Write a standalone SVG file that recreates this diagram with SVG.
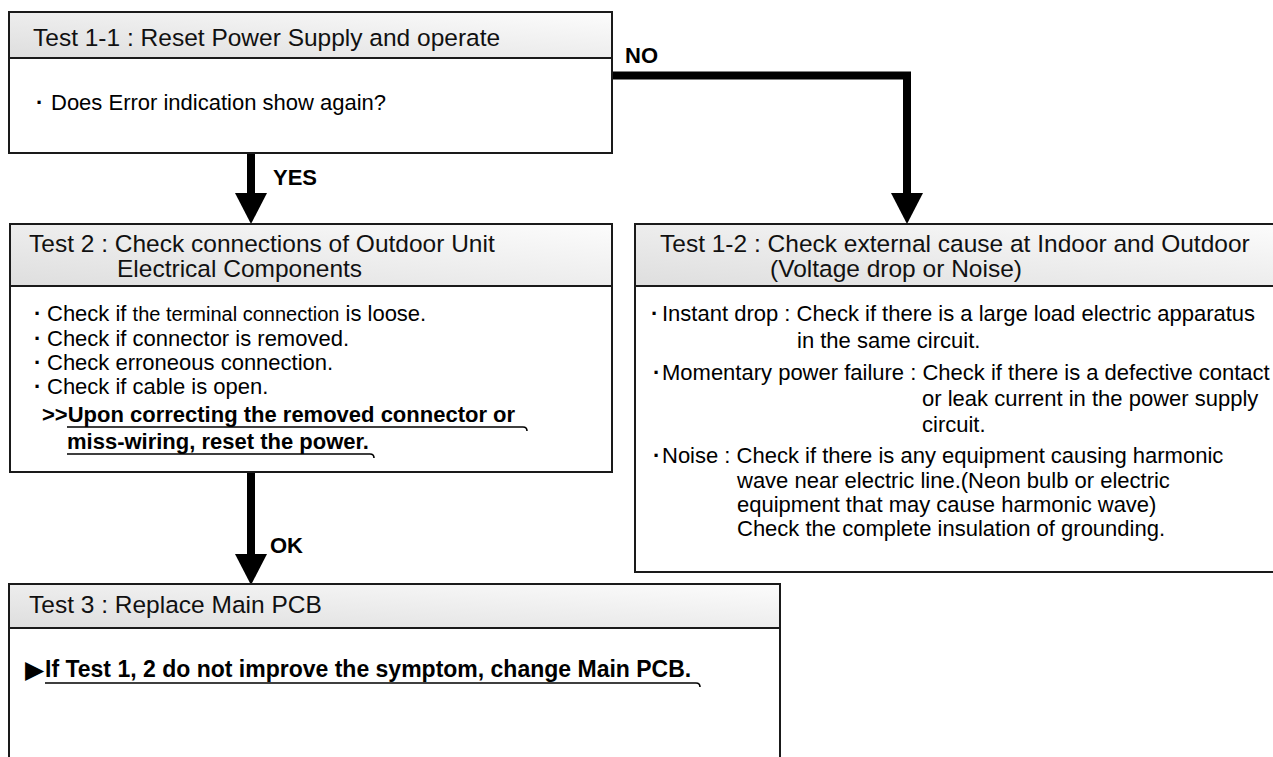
<svg xmlns="http://www.w3.org/2000/svg" width="1273" height="757" viewBox="0 0 1273 757">
<defs>
<linearGradient id="hdr" x1="0" y1="1" x2="1" y2="0">
<stop offset="0" stop-color="#dedede"/>
<stop offset="1" stop-color="#fcfcfc"/>
</linearGradient>
<marker id="ah" markerUnits="userSpaceOnUse" markerWidth="32" markerHeight="32" viewBox="0 0 31 32" refX="0" refY="16" orient="auto">
<path d="M0,0 L31,16 L0,32 Z" fill="#000"/>
</marker>
<style>
.box{fill:#fff;stroke:#1a1a1a;stroke-width:2}
.hdr{fill:url(#hdr);stroke:#1a1a1a;stroke-width:2}
.t{font-family:"Liberation Sans",Arial,sans-serif;font-size:22px;fill:#000}
.h{font-family:"Liberation Sans",Arial,sans-serif;font-size:24.5px;fill:#111}
.b{font-family:"Liberation Sans",Arial,sans-serif;font-size:22px;font-weight:bold;fill:#000}
.b3{font-family:"Liberation Sans",Arial,sans-serif;font-size:23px;font-weight:bold;fill:#000}
.tri{font-family:"DejaVu Sans",sans-serif;font-size:25px;fill:#000}
.lab{font-family:"Liberation Sans",Arial,sans-serif;font-size:22px;font-weight:bold;fill:#000}
.dot{font-family:"Liberation Sans",Arial,sans-serif;font-size:22px;font-weight:bold;fill:#000}
.ul{fill:none;stroke:#000;stroke-width:1.6}
.conn{fill:none;stroke:#000;stroke-width:8;stroke-linejoin:miter}
</style>
</defs>

<g id="connectors">
<path class="conn" d="M251,153 V193" marker-end="url(#ah)"/>
<path class="conn" d="M612,75.5 H907 V193" marker-end="url(#ah)"/>
<path class="conn" d="M251,472 V554" marker-end="url(#ah)"/>
<text class="lab" x="625" y="63">NO</text>
<text class="lab" x="273" y="185">YES</text>
<text class="lab" x="270" y="553">OK</text>
</g>

<g id="test1-1">
<rect class="box" x="9" y="12" width="603" height="141"/>
<rect class="hdr" x="9" y="12" width="603" height="46"/>
<text class="h" x="33" y="46">Test 1-1 : Reset Power Supply and operate</text>
<text class="dot" x="36" y="110">·</text>
<text class="t" x="51" y="110">Does Error indication show again?</text>
</g>

<g id="test2">
<rect class="box" x="10" y="224" width="602" height="248"/>
<rect class="hdr" x="10" y="224" width="602" height="62"/>
<text class="h" x="29" y="252">Test 2 : Check connections of Outdoor Unit</text>
<text class="h" x="117" y="277">Electrical Components</text>
<text class="dot" x="34" y="321">·</text>
<text class="t" x="47" y="321">Check if <tspan style="font-size:20px">the terminal connection</tspan> is loose.</text>
<text class="dot" x="34" y="346">·</text>
<text class="t" x="47" y="346">Check if connector is removed.</text>
<text class="dot" x="34" y="370">·</text>
<text class="t" x="47" y="370">Check erroneous connection.</text>
<text class="dot" x="34" y="394">·</text>
<text class="t" x="47" y="394">Check if cable is open.</text>
<text class="b" x="42" y="422">&gt;&gt;Upon correcting the removed connector or</text>
<path class="ul" d="M67,427 H523 Q527,427 527,431"/>
<text class="b" x="67" y="449">miss-wiring, reset the power.</text>
<path class="ul" d="M67,454 H370 Q374,454 374,458"/>
</g>

<g id="test1-2">
<rect class="box" x="635" y="224" width="660" height="348"/>
<rect class="hdr" x="635" y="224" width="660" height="62"/>
<text class="h" x="660" y="252">Test 1-2 : Check external cause at Indoor and Outdoor</text>
<text class="h" x="770" y="277">(Voltage drop or Noise)</text>
<text class="dot" x="651" y="321">·</text>
<text class="t" x="662" y="321">Instant drop : Check if there is a large load electric apparatus</text>
<text class="t" x="797" y="348">in the same circuit.</text>
<text class="dot" x="653" y="380">·</text>
<text class="t" x="662" y="380">Momentary power failure : Check if there is a defective contact</text>
<text class="t" x="922" y="406">or leak current in the power supply</text>
<text class="t" x="922" y="432">circuit.</text>
<text class="dot" x="653" y="463">·</text>
<text class="t" x="662" y="463">Noise : Check if there is any equipment causing harmonic</text>
<text class="t" x="737" y="488">wave near electric line.(Neon bulb or electric</text>
<text class="t" x="737" y="512">equipment that may cause harmonic wave)</text>
<text class="t" x="737" y="536">Check the complete insulation of grounding.</text>
</g>

<g id="test3">
<rect class="box" x="9" y="584" width="771" height="200"/>
<rect class="hdr" x="9" y="584" width="771" height="44"/>
<text class="h" x="29" y="613">Test 3 : Replace Main PCB</text>
<text class="tri" x="25" y="678">▶</text>
<text class="b3" x="45" y="677">If Test 1, 2 do not improve the symptom, change Main PCB.</text>
<path class="ul" d="M45,683 H696 Q700,683 700,687"/>
</g>
</svg>
